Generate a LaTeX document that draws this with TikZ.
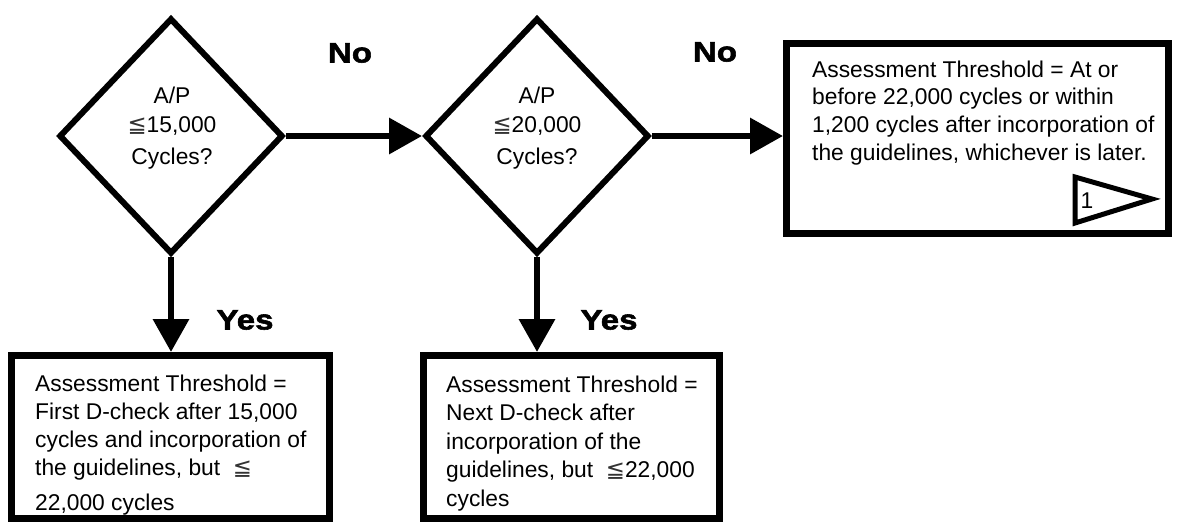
\documentclass[tikz,border=0pt]{standalone}
\usepackage{fontspec}
\setmainfont{Liberation Sans}
\newfontfamily\dvfont{DejaVu Sans}
\newfontfamily\heavyfont{Liberation Sans}[BoldFeatures={FakeBold=2,FakeStretch=1.18}]
\usetikzlibrary{shapes.geometric,arrows.meta}
\newcommand{\lqqsym}{{\dvfont\color{black!80}≦}}
\begin{document}
\begin{tikzpicture}[x=1pt,y=-1pt,
  decision/.style={draw, shape=diamond, line width=6pt, line join=miter, minimum width=224pt, minimum height=236pt, inner sep=0pt},
  outbox/.style={draw, rectangle, line width=7pt, line join=miter, inner sep=0pt},
  txt/.style={inner sep=0pt, align=left, anchor=north west},
  dtxt/.style={font=\fontsize{22.8}{29.5}\selectfont, inner sep=0pt, align=center, anchor=north},
  lbl/.style={font=\fontsize{28}{30}\selectfont\heavyfont\bfseries, inner sep=0pt},
  arr/.style={line width=6.5pt, -{Triangle[length=33pt,width=35pt]}}]
\useasboundingbox (0,0) rectangle (1177,525);
% decisions
\node[decision] (d1) at (171,136) {};
\node[decision] (d2) at (537,136) {};
\node[dtxt] (d1t) at (172,86.4) {A/P\\\lqqsym15,000\\[2pt]Cycles?};
\node[dtxt] (d2t) at (537,86.4) {A/P\\\lqqsym20,000\\[2pt]Cycles?};
% boxes
\node[outbox, minimum width=382pt, minimum height=190pt] (b3) at (977.5,138.5) {};
\node[outbox, minimum width=318pt, minimum height=163pt] (b1) at (170.5,437) {};
\node[outbox, minimum width=296pt, minimum height=163pt] (b2) at (571.5,437) {};
% box texts
\node[txt, font=\fontsize{22.8}{27.7}\selectfont] (b3t) at (812,60.4) {Assessment Threshold = At or\\before 22,000 cycles or within\\1,200 cycles after incorporation of\\the guidelines, whichever is later.};
\node[txt, font=\fontsize{22.8}{28}\selectfont] (b1t) at (35,374.4) {Assessment Threshold =\\First D-check after 15,000\\cycles and incorporation of\\the guidelines, but \ \lqqsym\\[7pt]22,000 cycles};
\node[txt, font=\fontsize{22.8}{28.5}\selectfont] (b2t) at (446,375.4) {Assessment Threshold =\\Next D-check after\\incorporation of the\\guidelines, but \ \lqqsym22,000\\cycles};
% reference marker
\draw[line width=5pt, line join=miter] (1075,177) -- (1075,223) -- (1152,199) -- cycle;
\node[font=\fontsize{22.8}{28}\selectfont, inner sep=0pt] (one) at (1087,201) {1};
% connectors
\draw[arr] (d1.east) -- (d2.west);
\draw[arr] (d2.east) -- (d2.east -| b3.west);
\draw[arr] (d1.south) -- (d1.south |- b1.north);
\draw[arr] (d2.south) -- (d2.south |- b2.north);
% labels
\node[lbl] (no1) at (350,53) {No};
\node[lbl] (no2) at (715,52) {No};
\node[lbl] (yes1) at (245,320) {Yes};
\node[lbl] (yes2) at (609,320) {Yes};
\end{tikzpicture}
\end{document}
